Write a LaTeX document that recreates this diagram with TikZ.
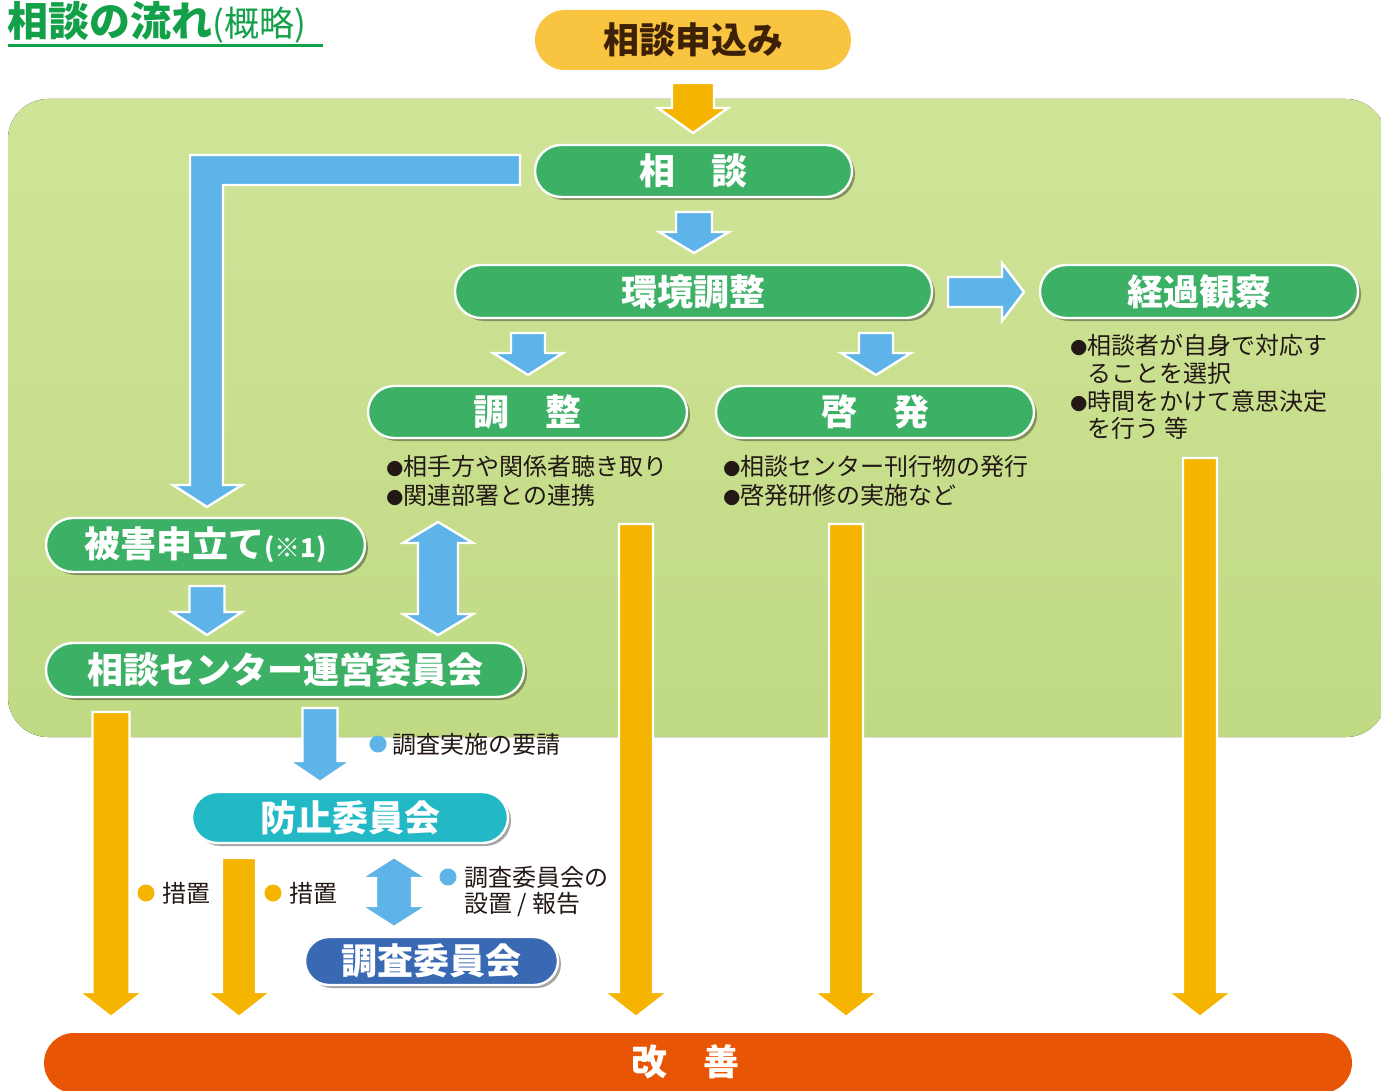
\documentclass[tikz,border=0pt]{standalone}
\usepackage{fontspec}
\newfontfamily\jp{Noto Sans CJK JP}
\usetikzlibrary{shadows}
\definecolor{pillgreen}{RGB}{60,176,100}
\definecolor{titlegreen}{RGB}{18,160,72}
\definecolor{pillteal}{RGB}{34,184,198}
\definecolor{pillblue}{RGB}{58,105,180}
\definecolor{arrblue}{RGB}{94,180,232}
\definecolor{arrorange}{RGB}{245,180,0}
\definecolor{pillyellow}{RGB}{249,196,64}
\definecolor{barorange}{RGB}{232,85,5}
\definecolor{bgtop}{RGB}{208,228,152}
\definecolor{bgbot}{RGB}{192,218,132}
\definecolor{textdark}{RGB}{35,24,21}
\definecolor{brown}{RGB}{61,33,6}
\newcommand\downarr[7]{\filldraw[#1] ({#2-#5},#3) -- ({#2+#5},#3) -- ({#2+#5},{#4-#7}) -- ({#2+#6},{#4-#7}) -- (#2,#4) -- ({#2-#6},{#4-#7}) -- ({#2-#5},{#4-#7}) -- cycle;}
\newcommand\bothdarr[7]{\filldraw[#1] (#2,#3) -- ({#2+#6},{#3+#7}) -- ({#2+#5},{#3+#7}) -- ({#2+#5},{#4-#7}) -- ({#2+#6},{#4-#7}) -- (#2,#4) -- ({#2-#6},{#4-#7}) -- ({#2-#5},{#4-#7}) -- ({#2-#5},{#3+#7}) -- ({#2-#6},{#3+#7}) -- cycle;}
\newcommand\bul{{\fontsize{8.5pt}{10pt}\selectfont ●}}
\begin{document}
\begin{tikzpicture}[x=0.5pt,y=-0.5pt,
  pillbase/.style={draw=white, line width=1.2pt, fill=pillgreen, inner sep=0pt, text=white,
    font=\jp\bfseries\fontsize{18pt}{20pt}\selectfont},
  pill/.style={pillbase, drop shadow={shadow xshift=1.5pt, shadow yshift=-1.5pt, opacity=0.35, fill=black}},
  ba/.style={fill=arrblue, draw=white, line width=1.2pt},
  oa/.style={fill=arrorange, draw=white, line width=1.2pt},
  body/.style={anchor=west, inner sep=0pt, text=textdark, font=\jp\fontsize{12pt}{14pt}\selectfont},
  dot/.style={circle, inner sep=0pt, minimum size=8.5pt}]
\useasboundingbox (0,0) rectangle (1381,1091);
% background
\fill[top color=bgtop, bottom color=bgbot, rounded corners=20pt] (8,99) rectangle (1386,737);
% title
\node[anchor=west, inner sep=0pt, text=titlegreen] (title) at (7,22)
  {\jp{\bfseries\fontsize{20.5pt}{22pt}\selectfont 相談の流れ}{\fontsize{17.5pt}{18pt}\selectfont (概略)}};
\draw[titlegreen, line width=1.5pt] (8,46) -- (323,46);
% top pill
\node[pillbase, fill=pillyellow, draw=none, text=brown, minimum width=158pt, minimum height=30pt, rounded corners=15pt] (apply) at (693,40) {相談申込み};
% arrows
\downarr{oa}{693}{83}{133}{21}{35}{25}
\downarr{ba}{694}{212}{253}{18}{35}{21}
\downarr{ba}{528}{333}{375}{17}{35}{22}
\downarr{ba}{876}{333}{375}{17}{35}{22}
\downarr{ba}{207}{586}{635}{17.5}{35}{23}
\downarr{ba}{320}{708}{782}{17.5}{31}{21}
\bothdarr{ba}{438}{522}{635}{20}{35}{21}
\bothdarr{ba}{394}{857}{927}{18}{33}{21}
\filldraw[ba] (948,277) -- (1002,277) -- (1002,263) -- (1024,292) -- (1002,321) -- (1002,307) -- (948,307) -- cycle;
\filldraw[ba] (520,155) -- (520,185) -- (223,185) -- (223,485) -- (242,485) -- (207,507) -- (173,485) -- (190,485) -- (190,155) -- cycle;
\downarr{oa}{111}{712}{1017}{18.5}{32}{25}
\downarr{oa}{239}{858}{1017}{17}{32}{25}
\downarr{oa}{636}{524}{1017}{17}{32}{25}
\downarr{oa}{846}{524}{1017}{17}{32}{25}
\downarr{oa}{1200}{458}{1017}{17}{32}{25}
% pills
\node[pill, minimum width=158.5pt, minimum height=26pt, rounded corners=13pt] (soudan) at (693.5,171) {相　談};
\node[pill, minimum width=238.5pt, minimum height=26.5pt, rounded corners=13pt] (kankyo) at (693.5,291.5) {環境調整};
\node[pill, minimum width=159pt, minimum height=26.5pt, rounded corners=13pt] (keika) at (1199,291.5) {経過観察};
\node[pill, minimum width=159.5pt, minimum height=26pt, rounded corners=13pt] (chosei) at (527.5,412) {調　整};
\node[pill, minimum width=159pt, minimum height=26pt, rounded corners=13pt] (keihatsu) at (875,412) {啓　発};
\node[pill, minimum width=159.5pt, minimum height=27pt, rounded corners=13.5pt] (higai) at (205.5,545) {被害申立て{\fontsize{13pt}{14pt}\selectfont (※1)}};
\node[pill, minimum width=239pt, minimum height=27pt, rounded corners=13.5pt] (unei) at (285,670) {相談センター運営委員会};
\node[pill, fill=pillteal, minimum width=158pt, minimum height=25.5pt, rounded corners=12.75pt] (boshi) at (350,817.5) {防止委員会};
\node[pill, fill=pillblue, minimum width=126.5pt, minimum height=24pt, rounded corners=12pt] (chosa) at (431.5,961) {調査委員会};
% bottom bar
\node[fill=barorange, inner sep=0pt, minimum width=654pt, minimum height=30pt, rounded corners=15pt] (kaizen) at (698,1063) {};
\node[text=white, inner sep=0pt, font=\jp\bfseries\fontsize{18pt}{20pt}\selectfont] (kaizenlbl) at (685,1062) {改　善};
% body texts
\node[body] (k1) at (1070,345) {\bul 相談者が自身で対応す};
\node[body] (k2) at (1087,373) {ることを選択};
\node[body] (k3) at (1070,401) {\bul 時間をかけて意思決定};
\node[body] (k4) at (1087,428) {を行う 等};
\node[body] (c1) at (386,466) {\bul 相手方や関係者聴き取り};
\node[body] (c2) at (386,495) {\bul 関連部署との連携};
\node[body] (h1) at (723,466) {\bul 相談センター刊行物の発行};
\node[body] (h2) at (723,495) {\bul 啓発研修の実施など};
\node[dot, fill=arrblue] (d1) at (378,744) {};
\node[body] (r1) at (392,744) {調査実施の要請};
\node[dot, fill=arrblue] (d2) at (448,877) {};
\node[body] (s1) at (464,877) {調査委員会の};
\node[body] (s2) at (464,905) {設置 / 報告};
\node[dot, fill=arrorange] (d3) at (146,893) {};
\node[body] (m1) at (162,893) {措置};
\node[dot, fill=arrorange] (d4) at (273,893) {};
\node[body] (m2) at (289,893) {措置};
\end{tikzpicture}
\end{document}
